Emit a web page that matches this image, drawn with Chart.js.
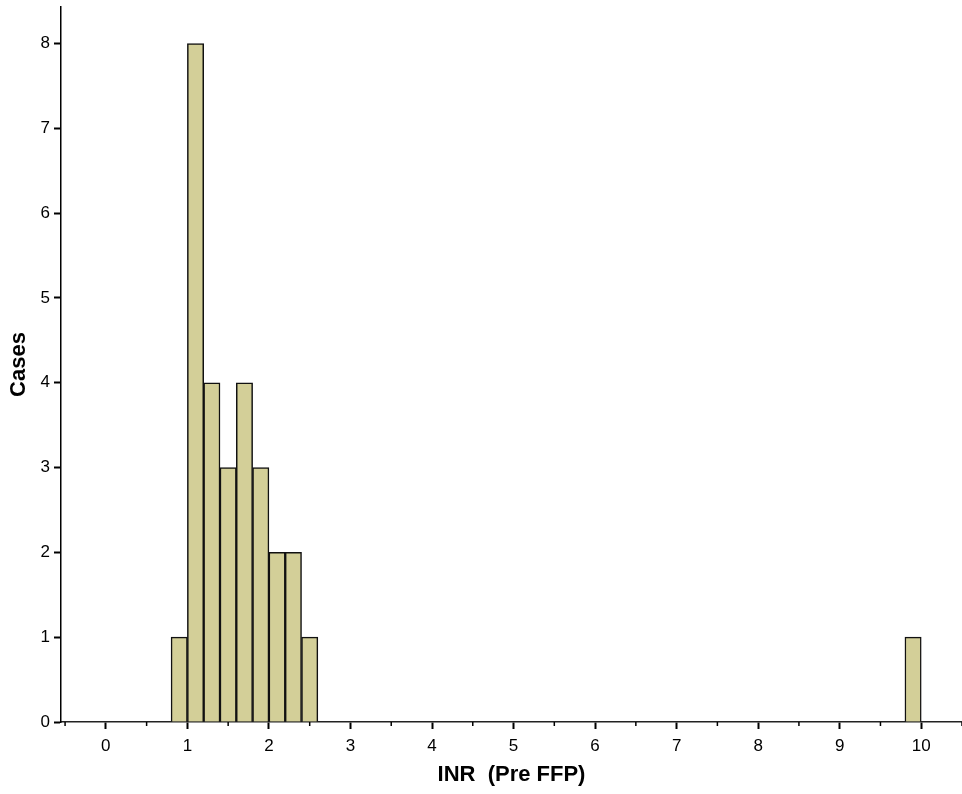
<!DOCTYPE html>
<html>
<head>
<meta charset="utf-8">
<script src="https://cdn.jsdelivr.net/npm/chart.js@4/dist/chart.umd.min.js"></script>
<style>
  body { margin: 0; background: #fff; }
  canvas { display: block; }
</style>
</head>
<body>
<canvas id="histChart" width="962" height="794"></canvas>
<script>
// Histogram bins (width 0.2), centre of each bin
var binCentres = [0.9, 1.1, 1.3, 1.5, 1.7, 1.9, 2.1, 2.3, 2.5, 9.9];
var caseCounts = [1, 8, 4, 3, 4, 3, 2, 2, 1, 1];
var xTickValues = [0, 1, 2, 3, 4, 5, 6, 7, 8, 9, 10];
var xMinorTicks = [-0.5, 0.5, 1.5, 2.5, 3.5, 4.5, 5.5, 6.5, 7.5, 8.5, 9.5, 10.5];
var yTickValues = [0, 1, 2, 3, 4, 5, 6, 7, 8];

var fontFamily = "Arial, 'Liberation Sans', sans-serif";

// short half-unit ticks under the x axis
var minorTicks = {
    id: 'minorTicks',
    afterDraw: function (chart) {
        var ctx = chart.ctx;
        var xs = chart.scales.x;
        var y = chart.chartArea.bottom;
        ctx.save();
        ctx.strokeStyle = '#000';
        ctx.lineWidth = 1.5;
        xMinorTicks.forEach(function (v) {
            var px = xs.getPixelForValue(v);
            ctx.beginPath();
            ctx.moveTo(px, y);
            ctx.lineTo(px, y + 4);
            ctx.stroke();
        });
        ctx.restore();
    }
};

var ctx = document.getElementById('histChart').getContext('2d');
new Chart(ctx, {
    type: 'bar',
    data: {
        datasets: [{
            data: binCentres.map(function (x, i) { return { x: x, y: caseCounts[i] }; }),
            backgroundColor: 'rgb(211,207,152)',
            borderColor: '#111',
            borderWidth: 1.5,
            barPercentage: 1,
            categoryPercentage: 1
        }]
    },
    options: {
        responsive: false,
        animation: false,
        layout: { padding: { top: 7, right: 0, left: 0, bottom: 0 } },
        plugins: {
            legend: { display: false },
            tooltip: { enabled: false }
        },
        scales: {
            x: {
                type: 'linear',
                offset: false,
                min: -0.55,
                max: 10.5,
                afterBuildTicks: function (scale) {
                    scale.ticks = xTickValues.map(function (v) { return { value: v }; });
                },
                afterFit: function (scale) {
                    scale.height = 72;
                    scale.paddingLeft = 0;
                    scale.paddingRight = 0;
                },
                grid: {
                    offset: false,
                    drawOnChartArea: false,
                    tickLength: 7,
                    tickColor: '#000',
                    tickWidth: 2
                },
                border: { color: '#222', width: 1.5 },
                ticks: {
                    color: '#000',
                    padding: 7,
                    maxRotation: 0,
                    font: { family: fontFamily, size: 17 }
                },
                title: {
                    display: true,
                    text: 'INR  (Pre FFP)',
                    color: '#000',
                    padding: { top: 2, bottom: 6 },
                    font: { family: fontFamily, size: 22, weight: 'bold' }
                }
            },
            y: {
                min: 0,
                max: 8.43,
                afterBuildTicks: function (scale) {
                    scale.ticks = yTickValues.map(function (v) { return { value: v }; });
                },
                afterFit: function (scale) {
                    scale.width = 61;
                    scale.paddingTop = 0;
                    scale.paddingBottom = 0;
                },
                grid: {
                    drawOnChartArea: false,
                    tickLength: 7,
                    tickColor: '#000',
                    tickWidth: 2
                },
                border: { color: '#000', width: 1.5 },
                ticks: {
                    color: '#000',
                    padding: 4,
                    font: { family: fontFamily, size: 17 }
                },
                title: {
                    display: true,
                    text: 'Cases',
                    color: '#000',
                    padding: { top: 6, bottom: 2 },
                    font: { family: fontFamily, size: 22, weight: 'bold' }
                }
            }
        }
    },
    plugins: [minorTicks]
});
</script>
</body>
</html>
